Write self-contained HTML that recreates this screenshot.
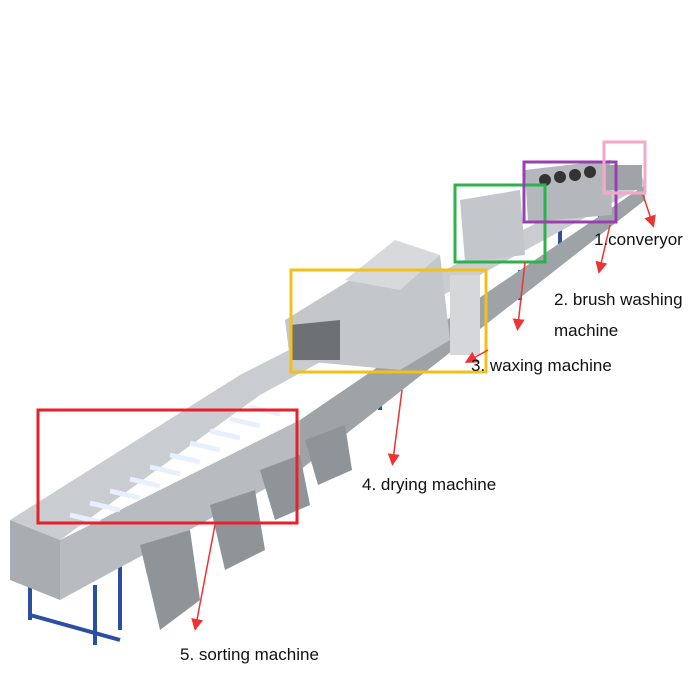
<!DOCTYPE html>
<html><head><meta charset="utf-8">
<style>
html,body{margin:0;padding:0;background:#fff;}
.wrap{position:relative;width:700px;height:700px;overflow:hidden;background:#fff;}
.lbl{position:absolute;font-family:"Liberation Sans",sans-serif;font-size:17px;color:#111;white-space:nowrap;}
</style></head><body><div class="wrap">
<svg width="700" height="700" style="position:absolute;left:0;top:0">
<defs>
<marker id="ah" markerWidth="8" markerHeight="8" refX="4" refY="4" orient="auto"><path d="M0,0 L8,4 L0,8 z" fill="#e33"/></marker>
</defs>
<g stroke="#2a4fa0" stroke-width="4">
<line x1="30" y1="560" x2="30" y2="620"/><line x1="95" y1="585" x2="95" y2="645"/>
<line x1="120" y1="560" x2="120" y2="630"/><line x1="355" y1="390" x2="355" y2="420"/>
<line x1="380" y1="380" x2="380" y2="410"/><line x1="520" y1="270" x2="520" y2="300"/>
<line x1="560" y1="230" x2="560" y2="255"/><line x1="600" y1="210" x2="600" y2="230"/>
<line x1="30" y1="615" x2="120" y2="640"/>
</g>
<polygon points="10,520 240,375 640,170 645,185 260,395 60,540" fill="#c9ccd0"/>
<polygon points="10,520 60,540 60,600 10,580" fill="#a9adb2"/>
<polygon points="60,540 300,420 300,470 60,600" fill="#b8bcc1"/>
<polygon points="300,420 645,185 645,200 300,470" fill="#9ea3a8"/>
<g stroke="#e8f0ff" stroke-width="5">
<line x1="70" y1="515" x2="100" y2="522"/><line x1="90" y1="503" x2="120" y2="510"/>
<line x1="110" y1="491" x2="140" y2="498"/><line x1="130" y1="479" x2="160" y2="486"/>
<line x1="150" y1="467" x2="180" y2="474"/><line x1="170" y1="455" x2="200" y2="462"/>
<line x1="190" y1="443" x2="220" y2="450"/><line x1="210" y1="431" x2="240" y2="438"/>
<line x1="230" y1="419" x2="260" y2="426"/><line x1="250" y1="407" x2="280" y2="414"/>
</g>
<g fill="#8f9499">
<polygon points="140,545 190,530 200,600 160,630"/><polygon points="210,505 255,490 265,550 225,570"/>
<polygon points="260,470 300,455 310,505 275,520"/><polygon points="305,440 345,425 352,470 318,485"/>
</g>
<polygon points="285,320 350,280 440,255 450,340 400,370 290,360" fill="#c3c6ca"/>
<polygon points="345,280 395,240 440,255 400,290" fill="#d7d9dc"/>
<polygon points="290,325 340,320 340,360 290,360" fill="#6d7176"/>
<polygon points="460,200 520,190 525,255 465,262" fill="#c3c6ca"/>
<rect x="450" y="275" width="30" height="80" fill="#d5d7da"/>
<polygon points="525,170 610,160 612,215 528,222" fill="#b4b8bd"/>
<g fill="#333"><circle cx="545" cy="180" r="6"/><circle cx="560" cy="177" r="6"/><circle cx="575" cy="175" r="6"/><circle cx="590" cy="172" r="6"/></g>
<rect x="606" y="165" width="36" height="25" fill="#a0a4a9"/>
<g fill="none" stroke-width="3">
<rect x="38" y="410" width="259" height="113" stroke="#e8202a"/>
<rect x="291" y="270" width="195" height="102" stroke="#f2c01a"/>
<rect x="455" y="185" width="90" height="77" stroke="#2bb24a"/>
<rect x="524" y="162" width="92" height="60" stroke="#9a3fb0"/>
<rect x="604" y="142" width="41" height="51" stroke="#f4a8c8"/>
</g>
<g stroke="#e33" stroke-width="1.5" marker-end="url(#ah)">
<line x1="643" y1="195" x2="652" y2="222"/>
<line x1="610" y1="225" x2="600" y2="268"/>
<line x1="525" y1="262" x2="518" y2="325"/>
<line x1="488" y1="350" x2="470" y2="360"/>
<line x1="402" y1="390" x2="393" y2="460"/>
<line x1="215" y1="525" x2="196" y2="625"/>
</g>
</svg>
<div class="lbl" style="left:594px;top:230px">1.converyor</div>
<div class="lbl" style="left:554px;top:290px">2. brush washing</div>
<div class="lbl" style="left:554px;top:321px">machine</div>
<div class="lbl" style="left:471px;top:356px">3. waxing machine</div>
<div class="lbl" style="left:362px;top:475px">4. drying machine</div>
<div class="lbl" style="left:180px;top:645px">5. sorting machine</div>
</div></body></html>
